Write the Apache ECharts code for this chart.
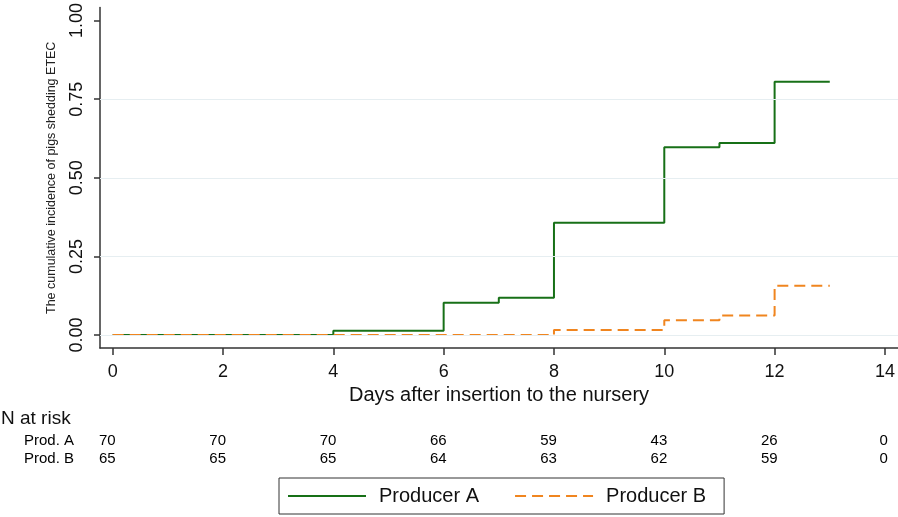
<!DOCTYPE html>
<html>
<head>
<meta charset="utf-8">
<script src="https://cdn.jsdelivr.net/npm/echarts@6/dist/echarts.min.js"></script>
<style>
html,body{margin:0;padding:0;background:#fff;}
#chart{width:898px;height:517px;}
</style>
</head>
<body>
<div id="chart"></div>
<script>
// Data
const dayTicks = [0, 2, 4, 6, 8, 10, 12, 14];
const incTicks = [0, 0.25, 0.5, 0.75, 1];
const gridValues = [0, 0.25, 0.5, 0.75];
const producerADays = [0, 4, 6, 7, 8, 10, 11, 12, 13];
const producerAInc = [0, 0.014, 0.103, 0.119, 0.357, 0.597, 0.611, 0.805, 0.805];
const producerBDays = [0, 8, 10, 11, 12, 13];
const producerBInc = [0, 0.016, 0.047, 0.062, 0.157, 0.157];
const riskGroups = ['Prod. A', 'Prod. B'];
const riskA = [70, 70, 70, 66, 59, 43, 26, 0];
const riskB = [65, 65, 65, 64, 63, 62, 59, 0];
const seriesNames = ['Producer A', 'Producer B'];

const xMin = -0.23, xMax = 14.237;
const yMin = -0.041, yMax = 1.041;
const textColor = '#111';
const fontFam = '"Liberation Sans", Arial, sans-serif';

const chart = echarts.init(document.getElementById('chart'), null, {renderer: 'canvas'});

function zipPts(xs, ys) { return xs.map((x, i) => [x, ys[i]]); }
function riskPts(vals, grp) { return dayTicks.map((d, i) => [d, grp, vals[i]]); }

const riskLabel = {
  show: true,
  position: [3, 0],
  align: 'right',
  verticalAlign: 'middle',
  fontSize: 15,
  color: '#000',
  opacity: 1,
  fontFamily: fontFam,
  formatter: p => String(p.data[2])
};

chart.setOption({
  animation: false,
  backgroundColor: '#fff',
  textStyle: {fontFamily: fontFam},
  title: {
    text: 'N at risk', left: 1, top: 409, padding: 0,
    textStyle: {fontSize: 19, fontWeight: 'normal', color: textColor, fontFamily: fontFam}
  },
  legend: {
    data: seriesNames,
    left: 279, top: 478,
    itemWidth: 78, itemHeight: 14, itemGap: 35,
    padding: [7, 18, 7, 8],
    borderColor: '#333', borderWidth: 1,
    itemStyle: {opacity: 0, borderWidth: 0},
    textStyle: {fontSize: 20, color: textColor, fontFamily: fontFam, padding: [0, 0, 0, 8], lineHeight: 22}
  },
  grid: [
    {left: 100, right: 0, top: 6, bottom: 169},
    {left: 100, right: 0, top: 432, height: 36}
  ],
  xAxis: [
    {
      type: 'value', gridIndex: 0, min: xMin, max: xMax,
      name: 'Days after insertion to the nursery', nameLocation: 'middle', nameGap: 36,
      nameTextStyle: {fontSize: 20, color: textColor, fontFamily: fontFam},
      axisLine: {show: true, onZero: false, lineStyle: {color: '#333', width: 1.5}},
      axisTick: {show: true, length: 7, customValues: dayTicks, lineStyle: {color: '#333', width: 1.5}},
      axisLabel: {customValues: dayTicks, fontSize: 18, color: textColor, margin: 15, fontFamily: fontFam},
      splitLine: {show: false}
    },
    {
      type: 'value', gridIndex: 1, min: xMin, max: xMax, show: false
    }
  ],
  yAxis: [
    {
      type: 'value', gridIndex: 0, min: yMin, max: yMax,
      name: 'The cumulative incidence of pigs shedding ETEC', nameLocation: 'middle', nameGap: 42,
      nameRotate: 90,
      nameTextStyle: {fontSize: 12.5, color: '#222', fontFamily: fontFam},
      axisLine: {show: true, onZero: false, lineStyle: {color: '#333', width: 1.5}},
      axisTick: {show: true, length: 6, customValues: incTicks, lineStyle: {color: '#333', width: 1.5}},
      axisLabel: {customValues: incTicks, rotate: 90, align: 'center', verticalAlign: 'bottom',
                  fontSize: 18, color: textColor, margin: 14,
                  fontFamily: fontFam, formatter: v => v.toFixed(2)},
      splitLine: {show: false}
    },
    {
      type: 'category', gridIndex: 1, data: riskGroups, inverse: true,
      axisLine: {show: false}, axisTick: {show: false},
      axisLabel: {interval: 0, fontSize: 15, color: '#000', margin: 26, fontFamily: fontFam},
      splitLine: {show: false}
    }
  ],
  series: [
    {
      name: 'grid', type: 'line', xAxisIndex: 0, yAxisIndex: 0, data: [], silent: true,
      markLine: {
        silent: true, symbol: 'none', label: {show: false},
        lineStyle: {color: '#e6eef1', width: 1.2, type: 'solid'},
        data: gridValues.map(v => ({yAxis: v}))
      }
    },
    {
      name: seriesNames[0], type: 'line', step: 'end', showSymbol: false, symbol: 'none',
      xAxisIndex: 0, yAxisIndex: 0,
      data: zipPts(producerADays, producerAInc),
      itemStyle: {color: '#177017'},
      lineStyle: {color: '#177017', width: 2}
    },
    {
      name: seriesNames[1], type: 'line', step: 'end', showSymbol: false, symbol: 'none',
      xAxisIndex: 0, yAxisIndex: 0,
      data: zipPts(producerBDays, producerBInc),
      itemStyle: {color: '#f0851f'},
      lineStyle: {color: '#f0851f', width: 2, type: [11, 6]}
    },
    {
      name: 'riskA', type: 'scatter', xAxisIndex: 1, yAxisIndex: 1, symbolSize: 0,
      itemStyle: {opacity: 1},
      data: riskPts(riskA, riskGroups[0]), label: riskLabel, silent: true
    },
    {
      name: 'riskB', type: 'scatter', xAxisIndex: 1, yAxisIndex: 1, symbolSize: 0,
      itemStyle: {opacity: 1},
      data: riskPts(riskB, riskGroups[1]), label: riskLabel, silent: true
    }
  ]
});
</script>
</body>
</html>
